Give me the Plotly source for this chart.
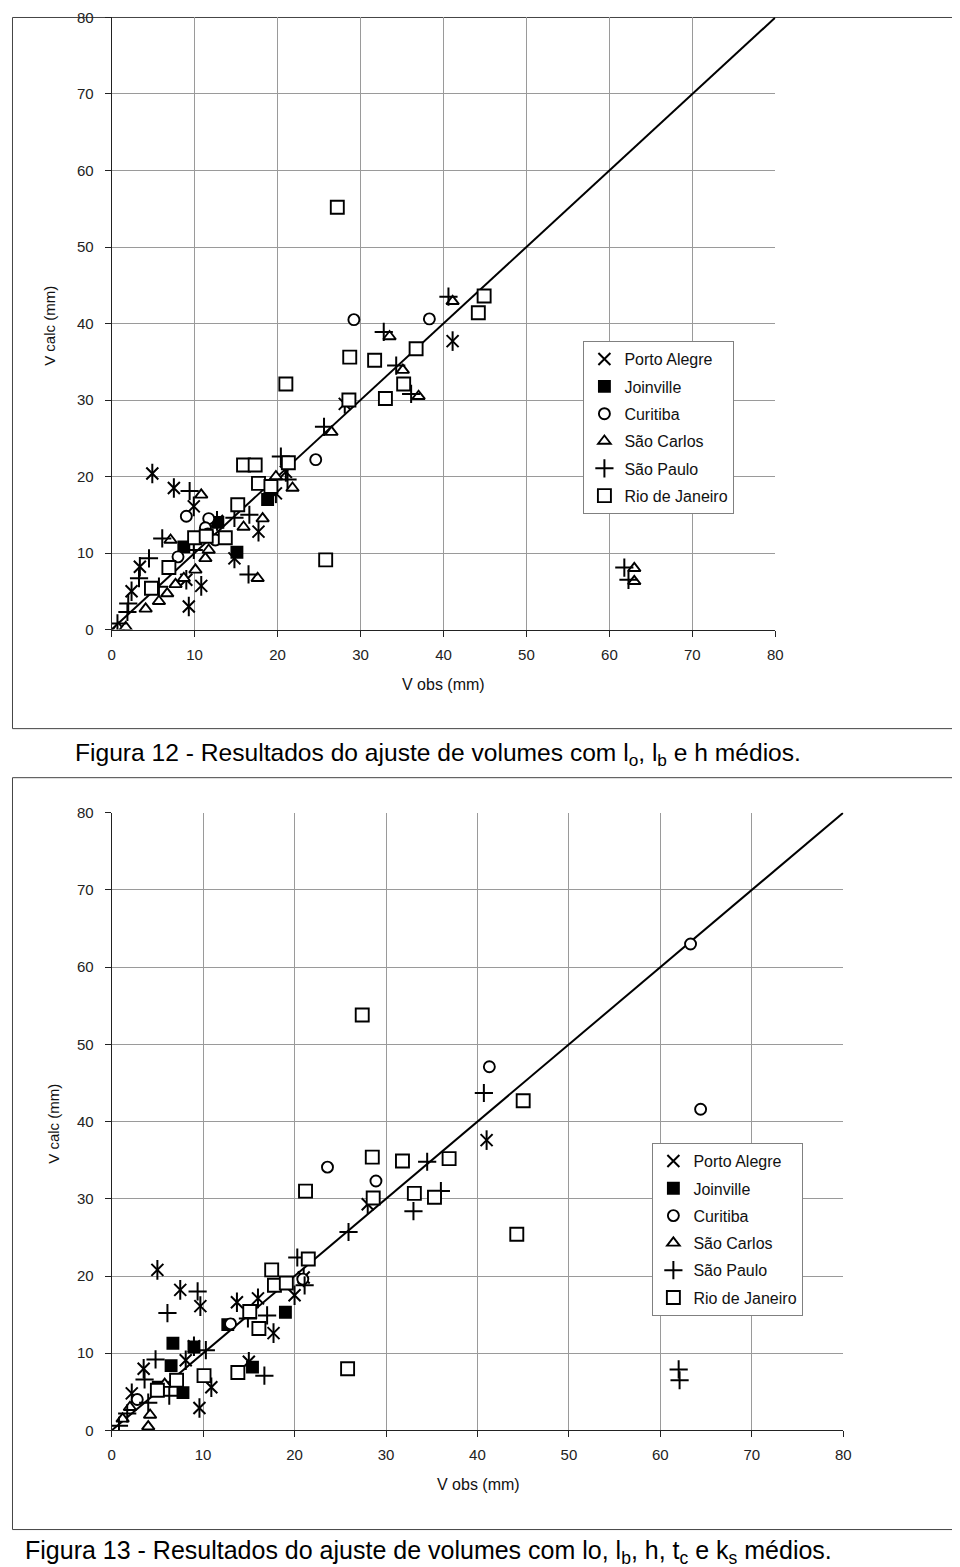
import plotly.graph_objects as go

pa12_obs = [4.9, 7.5, 9.9, 9.3, 10.8, 9.0, 3.4, 2.4, 17.7, 14.8, 19.8, 12.7, 28.1, 41.1, 21.0]
pa12_calc = [20.4, 18.5, 16.1, 3.0, 5.7, 6.5, 8.2, 5.0, 12.8, 9.3, 17.8, 14.2, 29.5, 37.7, 20.6]

jo12_obs = [18.8, 15.1, 12.8, 8.7]
jo12_calc = [17.0, 10.1, 14.0, 10.8]

cu12_obs = [29.2, 38.3, 24.6, 9.0, 11.7, 11.3, 11.6, 12.5, 8.0]
cu12_calc = [40.5, 40.6, 22.2, 14.8, 14.5, 13.3, 12.5, 11.7, 9.5]

sc12_obs = [41.1, 33.5, 35.1, 37.0, 26.5, 21.8, 10.8, 18.2, 17.6, 7.1, 63.0, 63.0,
            0.8, 1.7, 4.1, 5.7, 6.7, 7.7, 8.7, 10.1, 11.3, 11.7, 15.9, 19.8]
sc12_calc = [42.9, 38.3, 33.9, 30.5, 25.8, 18.5, 17.6, 14.5, 6.7, 11.7, 8.0, 6.3,
             0.2, 0.3, 2.7, 3.7, 4.7, 5.9, 6.7, 7.8, 9.3, 10.4, 13.4, 20.0]

sp12_obs = [40.6, 32.8, 34.3, 36.1, 25.6, 20.4, 21.2, 16.6, 14.8, 16.5, 6.1, 4.5,
            3.3, 1.9, 0.7, 9.4, 9.9, 61.8, 62.3, 5.7, 2.0]
sp12_calc = [43.5, 38.9, 34.5, 30.8, 26.5, 22.6, 19.6, 15.0, 14.6, 7.2, 11.9, 9.3,
             6.7, 2.3, 0.8, 18.1, 10.4, 8.1, 6.5, 5.6, 3.4]

rj12_obs = [27.2, 44.9, 44.2, 36.7, 28.7, 31.7, 33.0, 35.2, 28.6, 21.0, 25.8, 15.9,
            17.3, 17.7, 19.2, 21.3, 15.2, 10.0, 11.4, 13.7, 6.9, 4.8]
rj12_calc = [55.2, 43.6, 41.4, 36.7, 35.6, 35.2, 30.2, 32.1, 30.0, 32.1, 9.1, 21.5,
             21.5, 19.1, 18.7, 21.8, 16.3, 12.0, 12.2, 12.0, 8.1, 5.4]

pa13_obs = [5.0, 7.5, 9.7, 9.6, 10.9, 8.1, 3.5, 2.2, 13.7, 16.0, 17.7, 20.0, 15.0, 9.0, 28.0, 41.0, 21.0]
pa13_calc = [20.8, 18.2, 16.1, 2.9, 5.6, 9.1, 8.0, 4.8, 16.6, 17.1, 12.6, 17.5, 8.9, 10.9, 29.3, 37.6, 19.8]

jo13_obs = [19.0, 12.7, 6.7, 15.4, 7.8, 5.1, 9.0, 6.5]
jo13_calc = [15.3, 13.7, 11.3, 8.2, 4.9, 5.6, 10.8, 8.4]

cu13_obs = [63.3, 64.4, 41.3, 23.6, 28.9, 20.9, 13.0, 2.8]
cu13_calc = [63.0, 41.6, 47.1, 34.1, 32.3, 19.6, 13.8, 4.0]

sc13_obs = [4.0, 4.2, 2.0, 5.8, 1.2]
sc13_calc = [0.5, 2.0, 3.0, 6.0, 1.5]

sp13_obs = [40.7, 34.5, 36.0, 33.0, 25.9, 20.3, 21.1, 9.4, 6.1, 4.8, 3.6, 1.7, 0.8,
            10.3, 17.0, 16.7, 14.9, 4.0, 62.0, 62.1, 6.3]
sp13_calc = [43.7, 34.8, 31.0, 28.4, 25.7, 22.4, 18.8, 18.0, 15.2, 9.2, 6.6, 2.2, 0.6,
             10.4, 14.9, 7.1, 14.5, 3.6, 7.9, 6.5, 4.5]

rj13_obs = [27.4, 45.0, 36.9, 28.5, 31.8, 33.1, 35.3, 28.6, 44.3, 21.2, 25.8, 17.5,
            21.5, 17.8, 19.1, 15.1, 16.1, 13.8, 10.1, 7.1, 5.0]
rj13_calc = [53.8, 42.7, 35.2, 35.4, 34.9, 30.7, 30.2, 30.1, 25.4, 31.0, 8.0, 20.8,
             22.2, 18.8, 19.1, 15.4, 13.2, 7.5, 7.1, 6.5, 5.2]

ticks = [0, 10, 20, 30, 40, 50, 60, 70, 80]

W, H = 960, 1567
FONT = "Liberation Sans, Arial, sans-serif"

# a página aparece deslocada e levemente reduzida na foto; compensa aqui
OX, OY, S = 11.3, 16.2, 0.988


def px_x(p):
    return max((p - OX) / S, 0.5) / W


def px_y(p):
    return 1 - max((p - OY) / S, 0.5) / H


# estilos das séries (nome, símbolo, cor de preenchimento, tamanho)
series_style = [
    ("Porto Alegre", "x-thin-open", "black", 12),
    ("Joinville", "square", "black", 11),
    ("Curitiba", "circle", "white", 11),
    ("São Carlos", "triangle-up", "white", 11),
    ("São Paulo", "cross-thin-open", "black", 13),
    ("Rio de Janeiro", "square", "white", 13),
]

fig = go.Figure()

# linha 1:1 de cada gráfico
for xa, ya in [("x", "y"), ("x2", "y2")]:
    fig.add_trace(go.Scatter(x=[0, 80], y=[0, 80], mode="lines",
                             line=dict(color="black", width=2),
                             xaxis=xa, yaxis=ya, showlegend=False, hoverinfo="skip"))

datasets = [
    ("x", "y", "legend", "12", [(pa12_obs, pa12_calc), (jo12_obs, jo12_calc), (cu12_obs, cu12_calc),
                                (sc12_obs, sc12_calc), (sp12_obs, sp12_calc), (rj12_obs, rj12_calc)]),
    ("x2", "y2", "legend2", "13", [(pa13_obs, pa13_calc), (jo13_obs, jo13_calc), (cu13_obs, cu13_calc),
                                   (sc13_obs, sc13_calc), (sp13_obs, sp13_calc), (rj13_obs, rj13_calc)]),
]

for xa, ya, leg, tag, pairs in datasets:
    for (name, sym, fill, size), (xs, ys) in zip(series_style, pairs):
        open_sym = sym.endswith("-open")
        fig.add_trace(go.Scatter(
            x=xs, y=ys, mode="markers", name=name,
            xaxis=xa, yaxis=ya, legend=leg, legendgroup=name + tag,
            marker=dict(symbol=sym, size=size, color=fill,
                        line=dict(color="black", width=2 if open_sym else 1.9)),
        ))
        if name == "Porto Alegre":
            # haste vertical do asterisco de seis pontas
            fig.add_trace(go.Scatter(
                x=xs, y=ys, mode="markers", name=name, showlegend=False,
                xaxis=xa, yaxis=ya, legend=leg, legendgroup=name + tag,
                marker=dict(symbol="line-ns-open", size=14, color="black",
                            line=dict(color="black", width=2)),
            ))

axis_common = dict(range=[0, 80], tickvals=ticks, showgrid=True, gridcolor="#9a9a9a",
                   gridwidth=1, zeroline=False, showline=True, linecolor="#222",
                   linewidth=1, ticks="outside", ticklen=6, tickcolor="#222",
                   tickfont=dict(family=FONT, size=15, color="#222"), fixedrange=True)

legend_common = dict(xanchor="left", yanchor="top", bordercolor="#808080", borderwidth=1,
                     bgcolor="white", font=dict(family=FONT, size=16, color="#111"),
                     tracegroupgap=3.5, traceorder="grouped")

fig.update_layout(
    width=W, height=H, autosize=False,
    margin=dict(l=0, r=0, t=0, b=0),
    paper_bgcolor="white", plot_bgcolor="white",
    showlegend=True,
    xaxis=dict(domain=[px_x(111), px_x(775)], anchor="y", ticklabelstandoff=5, **axis_common),
    yaxis=dict(domain=[px_y(628), px_y(15)], anchor="x", ticklabelstandoff=8, **axis_common),
    xaxis2=dict(domain=[px_x(111), px_x(843)], anchor="y2", ticklabelstandoff=5, **axis_common),
    yaxis2=dict(domain=[px_y(1428), px_y(811)], anchor="x2", ticklabelstandoff=8, **axis_common),
    legend=dict(x=px_x(583), y=px_y(340), **legend_common),
    legend2=dict(x=px_x(652), y=px_y(1141), **legend_common),
)

# molduras de cada figura
for top, bottom in [(1, 727), (776, 1527)]:
    fig.add_shape(type="rect", xref="paper", yref="paper",
                  x0=px_x(1), x1=px_x(955), y0=px_y(bottom), y1=px_y(top),
                  line=dict(color="#444", width=1), fillcolor="rgba(0,0,0,0)", layer="below")

# títulos dos eixos
for yt_x, yt_y, xt_x, xt_y in [(48, 325, 443, 683), (52, 1122, 478, 1482)]:
    fig.add_annotation(text="V calc (mm)", x=px_x(yt_x), y=px_y(yt_y), xref="paper", yref="paper",
                       xanchor="center", yanchor="middle", textangle=-90, showarrow=False,
                       font=dict(family=FONT, size=15, color="#111"))
    fig.add_annotation(text="V obs (mm)", x=px_x(xt_x), y=px_y(xt_y), xref="paper", yref="paper",
                       xanchor="center", yanchor="middle", showarrow=False,
                       font=dict(family=FONT, size=16, color="#111"))

# legendas das figuras
fig.add_annotation(text="Figura 12 - Resultados do ajuste de volumes com l<sub>o</sub>, l<sub>b</sub> e h médios.",
                   x=px_x(438), y=px_y(753), xref="paper", yref="paper", xanchor="center",
                   yanchor="middle", showarrow=False, font=dict(family=FONT, size=24.6, color="black"))
fig.add_annotation(text="Figura 13 - Resultados do ajuste de volumes com lo, l<sub>b</sub>, h, t<sub>c</sub> e k<sub>s</sub> médios.",
                   x=px_x(428), y=px_y(1549), xref="paper", yref="paper", xanchor="center",
                   yanchor="middle", showarrow=False, font=dict(family=FONT, size=25, color="black"))

fig.write_html("out.html")
